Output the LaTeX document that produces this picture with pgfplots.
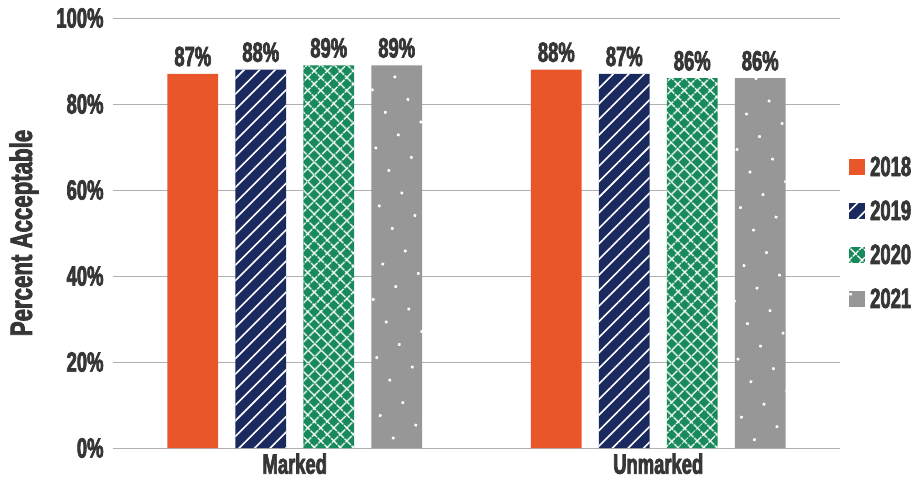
\documentclass[border=0pt]{standalone}
\usepackage{fontspec}
\setmainfont{Liberation Sans}[FakeStretch=0.66,
  BoldFeatures={FakeStretch=0.66, FakeBold=2.5}]
\newfontfamily\labelfont{Liberation Sans}[FakeStretch=0.72,
  BoldFeatures={FakeStretch=0.72, FakeBold=2.5}]
\usepackage{pgfplots}
\pgfplotsset{compat=1.18}
\usetikzlibrary{patterns.meta}

\definecolor{cOrange}{HTML}{E8562A}
\definecolor{cNavy}{HTML}{1B2A5E}
\definecolor{cGreen}{HTML}{17895B}
\definecolor{cGray}{HTML}{979797}
\definecolor{cText}{HTML}{363636}
\definecolor{cGrid}{HTML}{B0B0B0}

\newcommand{\lbl}{\fontsize{28}{30}\selectfont\bfseries}

\begin{document}
\begin{tikzpicture}[x=1bp,y=1bp]
\useasboundingbox (-113bp,-37bp) rectangle (809bp,448bp);
\begin{axis}[
  scale only axis,
  width=727bp, height=430bp,
  xmin=-0.5, xmax=1.5,
  ymin=0, ymax=100,
  ybar, bar width=0.14,
  xtick={0,1}, xticklabels={Marked,Unmarked},
  ytick={0,20,40,60,80,100},
  yticklabels={0\%,20\%,40\%,60\%,80\%,100\%},
  major tick length=0pt,
  axis x line*=bottom, axis y line*=left,
  y axis line style={draw=none},
  x axis line style={cGrid, line width=0.9bp},
  ymajorgrids, grid style={cGrid, line width=0.9bp},
  tick label style={font=\lbl, text=cText},
  yticklabel style={xshift=-6bp},
  xticklabel style={yshift=-2bp},
  ylabel={Percent Acceptable},
  every axis y label/.style={at={(axis description cs:0,0.5)},
    xshift=-89bp, rotate=90, anchor=center,
    font=\labelfont\fontsize{31}{33}\selectfont\bfseries, text=cText},
  /pgf/number format/assume math mode=true,
  nodes near coords={\pgfmathprintnumber{\pgfplotspointmeta}\%},
  nodes near coords style={font=\lbl, text=cText, yshift=4bp},
  legend style={at={(1.0,0.5)}, anchor=west, draw=none, fill=none,
    font=\lbl, text=cText, xshift=6bp,
    row sep=19bp, column sep=3bp, legend cell align=left},
  legend image code/.code={\draw[#1, draw=none] (0bp,-8bp) rectangle (16bp,8bp);},
  clip=false,
]
\addplot[draw=none, fill=cOrange, bar shift=-0.2805] coordinates {(0,87) (1,88)};
\addlegendentry{2018}
\addplot[draw=none, fill=cNavy, bar shift=-0.0935,
  postaction={pattern={Lines[angle=45,distance=11bp,line width=1.6bp]}, pattern color=white}]
  coordinates {(0,88) (1,87)};
\addlegendentry{2019}
\addplot[draw=none, fill=cGreen, bar shift=0.0935,
  postaction={pattern={Lines[angle=45,distance=10bp,line width=1.6bp]}, pattern color=white},
  postaction={pattern={Lines[angle=-45,distance=10bp,line width=1.6bp]}, pattern color=white}]
  coordinates {(0,89) (1,86)};
\addlegendentry{2020}
\addplot[draw=none, fill=cGray, bar shift=0.2805,
  postaction={pattern={Dots[radius=1.8bp,distance=26bp,angle=30]}, pattern color=white}]
  coordinates {(0,89) (1,86)};
\addlegendentry{2021}
\end{axis}
\end{tikzpicture}
\end{document}
